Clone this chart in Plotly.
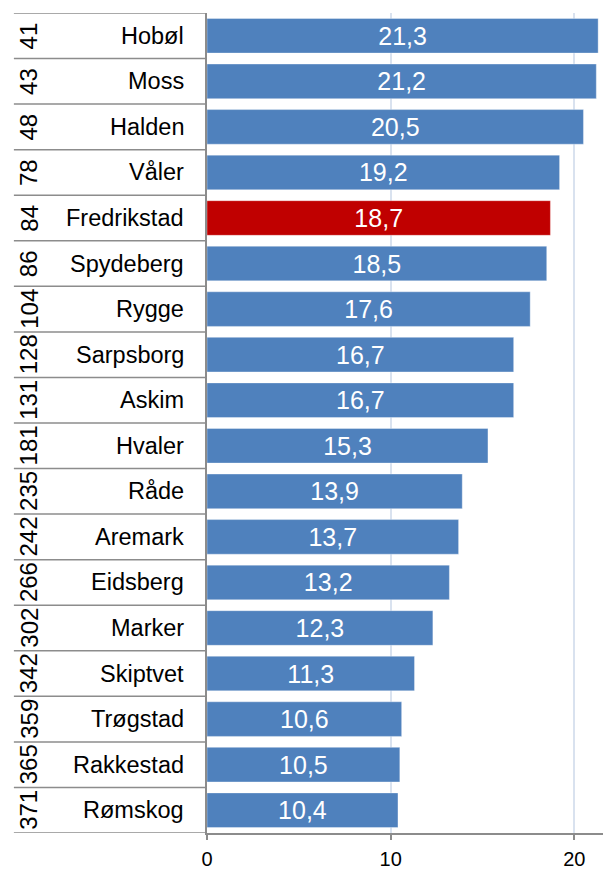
import plotly.graph_objects as go

names = ["Hobøl", "Moss", "Halden", "Våler", "Fredrikstad", "Spydeberg", "Rygge",
         "Sarpsborg", "Askim", "Hvaler", "Råde", "Aremark", "Eidsberg", "Marker",
         "Skiptvet", "Trøgstad", "Rakkestad", "Rømskog"]
ranks = [41, 43, 48, 78, 84, 86, 104, 128, 131, 181, 235, 242, 266, 302, 342, 359, 365, 371]
values = [21.3, 21.2, 20.5, 19.2, 18.7, 18.5, 17.6, 16.7, 16.7, 15.3, 13.9, 13.7,
          13.2, 12.3, 11.3, 10.6, 10.5, 10.4]
highlight = "Fredrikstad"
x_ticks = [0, 10, 20]

BLUE = "#4F81BD"
RED = "#C00000"
GRAY = "#8C8C8C"
FONT = "Liberation Sans, Arial, sans-serif"

n = len(names)
ypos = list(range(n))
colors = [RED if nm == highlight else BLUE for nm in names]
texts = [f"{v:.1f}".replace(".", ",") for v in values]

fig = go.Figure()
fig.add_trace(go.Bar(
    x=values, y=ypos, orientation="h",
    marker=dict(color=colors, line=dict(color="rgba(255,255,255,0.35)", width=1)),
    text=texts, textposition="inside", insidetextanchor="middle",
    textfont=dict(family=FONT, size=25, color="white"),
    width=0.76, hoverinfo="skip",
))

annotations = []
shapes = []
for i, (nm, rk) in enumerate(zip(names, ranks)):
    annotations.append(dict(xref="paper", yref="y", x=-0.0515, y=i, text=nm,
                            showarrow=False, xanchor="right", yanchor="middle",
                            font=dict(family=FONT, size=23.5, color="black")))
    annotations.append(dict(xref="paper", yref="y", x=-0.4415, y=i, text=str(rk),
                            showarrow=False, xanchor="center", yanchor="middle",
                            textangle=-90,
                            font=dict(family=FONT, size=24, color="black")))
for i in range(n + 1):
    shapes.append(dict(type="line", xref="paper", yref="y", x0=-0.478, x1=0,
                       y0=i - 0.5, y1=i - 0.5, line=dict(color=GRAY, width=1.5)))

fig.update_layout(
    width=603, height=862,
    margin=dict(l=199, r=0, t=5, b=32),
    paper_bgcolor="white", plot_bgcolor="white",
    showlegend=False,
    uniformtext=dict(minsize=25, mode="show"),
    annotations=annotations, shapes=shapes,
    xaxis=dict(range=[0, 22.0], tickvals=x_ticks, ticktext=[str(t) for t in x_ticks],
               showgrid=True, gridcolor="#D9E2EF", gridwidth=1.5,
               zeroline=False, showline=True, linecolor=GRAY, linewidth=1.5,
               ticks="outside", ticklen=5, tickcolor=GRAY, tickwidth=1.5,
               ticklabelstandoff=2,
               tickfont=dict(family=FONT, size=20, color="black")),
    yaxis=dict(range=[n - 0.5, -0.5], showticklabels=False, showgrid=False,
               zeroline=False, showline=True, linecolor=GRAY, linewidth=1.5,
               ticks=""),
)

fig.write_html("out.html")
